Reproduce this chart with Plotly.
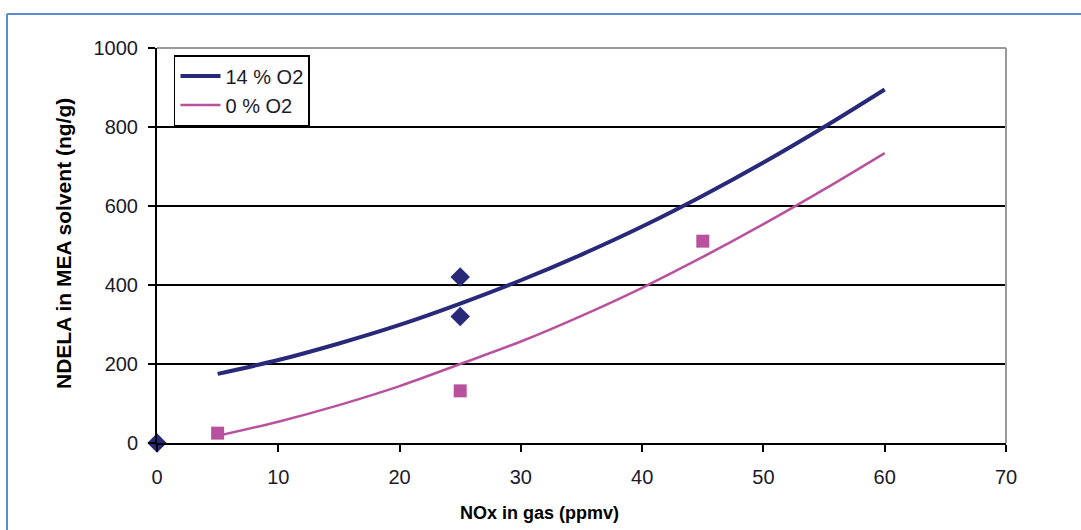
import plotly.graph_objects as go

# Measured NDELA (ng/g) at NOx levels (ppmv)
o2_14_x = [0, 25, 25]
o2_14_y = [0, 420, 320]
o2_0_x = [5, 25, 45]
o2_0_y = [25, 132, 511]

# Trend curves
trend_x = [5, 10, 15, 20, 25, 30, 35, 40, 45, 50, 55, 60]
trend_14 = [175, 210, 252, 299, 353, 412, 477, 548, 626, 710, 800, 895]
trend_0 = [18, 54, 96, 144, 200, 257, 322, 393, 471, 554, 642, 734]

x_ticks = [0, 10, 20, 30, 40, 50, 60, 70]
y_ticks = [0, 200, 400, 600, 800, 1000]

NAVY = "#29297a"
PINK = "#b8529f"
TEXT = "#1a1a2a"
FONT = "Liberation Sans, Arial, sans-serif"

fig = go.Figure()
fig.add_trace(go.Scatter(x=trend_x, y=trend_14, mode="lines", name="14 % O2",
                         line=dict(color=NAVY, width=4, shape="spline")))
fig.add_trace(go.Scatter(x=trend_x, y=trend_0, mode="lines", name="0 % O2",
                         line=dict(color=PINK, width=2.5, shape="spline")))
fig.add_trace(go.Scatter(x=o2_14_x, y=o2_14_y, mode="markers", showlegend=False,
                         marker=dict(symbol="diamond", size=15, color=NAVY),
                         cliponaxis=False))
fig.add_trace(go.Scatter(x=o2_0_x, y=o2_0_y, mode="markers", showlegend=False,
                         marker=dict(symbol="square", size=13, color=PINK),
                         cliponaxis=False))

# Gray frame on top and right of the plotting area
fig.add_shape(type="line", xref="paper", yref="paper", x0=0, x1=1, y0=1, y1=1,
              line=dict(color="#999999", width=2))
fig.add_shape(type="line", xref="paper", yref="paper", x0=1, x1=1, y0=0, y1=1,
              line=dict(color="#999999", width=2))

# Outer blue border (left and top edges)
fig.add_shape(type="line", xref="paper", yref="paper", x0=-0.1767, x1=1.1, y0=1.086, y1=1.086,
              line=dict(color="#5b8bd0", width=2))
fig.add_shape(type="line", xref="paper", yref="paper", x0=-0.1767, x1=-0.1767, y0=1.086, y1=-0.25,
              line=dict(color="#5b8bd0", width=2))

fig.add_annotation(text="<b>NOx in gas (ppmv)</b>", xref="paper", yref="paper",
                   x=(539 - 157) / 849, y=-0.177, xanchor="center", yanchor="middle",
                   showarrow=False, font=dict(family=FONT, size=18, color="black"))
fig.add_annotation(text="<b>NDELA in MEA solvent (ng/g)</b>", xref="paper", yref="paper",
                   x=(63 - 157) / 849, y=(443 - 244) / 395, xanchor="center", yanchor="middle",
                   textangle=-90, showarrow=False,
                   font=dict(family=FONT, size=21, color="black"))

fig.update_layout(
    width=1081, height=530,
    margin=dict(l=157, r=75, t=48, b=87),
    paper_bgcolor="white", plot_bgcolor="white",
    font=dict(family=FONT, size=20, color=TEXT),
    showlegend=True,
    legend=dict(x=0.02, y=0.982, xanchor="left", yanchor="top",
                bgcolor="white", bordercolor="black", borderwidth=1.5,
                font=dict(family=FONT, size=20, color=TEXT),
                tracegroupgap=0, itemwidth=40, entrywidth=150),
    xaxis=dict(range=[0, 70], tickvals=x_ticks, ticks="outside", ticklen=7,
               tickwidth=2, tickcolor="black", showline=True, linecolor="black",
               linewidth=2, showgrid=False, zeroline=False, ticklabelstandoff=8,
               tickfont=dict(family=FONT, size=20, color=TEXT)),
    yaxis=dict(range=[0, 1000], tickvals=y_ticks, ticks="outside", ticklen=7,
               tickwidth=2, tickcolor="black", showline=True, linecolor="black",
               linewidth=2, showgrid=True, gridcolor="black", gridwidth=1.5,
               zeroline=False, ticklabelstandoff=6,
               tickfont=dict(family=FONT, size=20, color=TEXT)),
)

fig.write_html("out.html")
